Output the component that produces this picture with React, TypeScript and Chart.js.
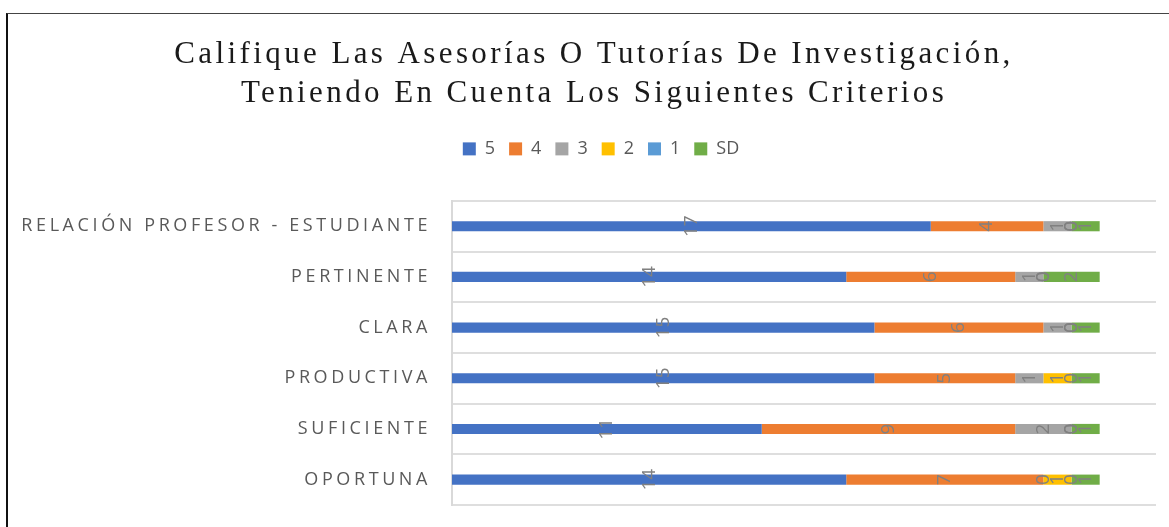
import { useEffect, useRef } from 'react';
import { Chart, registerables } from 'chart.js';

Chart.register(...registerables);

const categories = [
  'RELACIÓN PROFESOR - ESTUDIANTE',
  'PERTINENTE',
  'CLARA',
  'PRODUCTIVA',
  'SUFICIENTE',
  'OPORTUNA',
];
const seriesNames = ['5', '4', '3', '2', '1', 'SD'];
const values5 = [17, 14, 15, 15, 11, 14];
const values4 = [4, 6, 6, 5, 9, 7];
const values3 = [1, 1, 1, 1, 2, 0];
const values2 = [0, 0, 0, 1, 0, 1];
const values1 = [0, 0, 0, 0, 0, 0];
const valuesSD = [1, 2, 1, 1, 1, 1];
const seriesColors = ['#4472C4', '#ED7D31', '#A5A5A5', '#FFC000', '#5B9BD5', '#70AD47'];

const titleLines = [
  'Califique Las Asesorías O Tutorías De Investigación,',
  'Teniendo En Cuenta Los Siguientes Criterios',
];

const TITLE_SPACING = '3.4px';
const TICK_SPACING = '3.6px';
const LEGEND_GAP = 33;
const LEGEND_SHIFT = 7;

const segLabels = {
  id: 'segLabels',
  afterDatasetsDraw(chart: any) {
    const ctx = chart.ctx;
    ctx.save();
    ctx.font = '19px "Open Sans"';
    ctx.fillStyle = '#808080';
    ctx.textAlign = 'center';
    ctx.textBaseline = 'middle';
    chart.data.datasets.forEach((ds: any, di: number) => {
      const meta = chart.getDatasetMeta(di);
      if (meta.hidden) return;
      meta.data.forEach((el: any, i: number) => {
        const p = el.getProps(['x', 'y', 'base'], true);
        const cx = (p.x + p.base) / 2;
        ctx.save();
        ctx.translate(cx, p.y);
        ctx.rotate(-Math.PI / 2);
        ctx.fillText(String(ds.data[i]), 0, 0);
        ctx.restore();
      });
    });
    ctx.restore();
  },
};

const spacing = {
  id: 'spacing',
  beforeLayout(chart: any) {
    const l = chart.legend;
    if (l && !l.__gap) {
      const f = l.fit.bind(l);
      l.fit = () => {
        f();
        l.height += LEGEND_GAP;
      };
      const d = l.draw.bind(l);
      l.draw = (a: any) => {
        const c = chart.ctx;
        c.save();
        c.translate(LEGEND_SHIFT, 0);
        d(a);
        c.restore();
      };
      l.__gap = true;
    }
  },
  beforeDraw(chart: any) {
    const t = chart.titleBlock;
    if (t && !t.__ls) {
      const d = t.draw.bind(t);
      t.draw = (a: any) => {
        const c = chart.ctx;
        c.save();
        c.letterSpacing = TITLE_SPACING;
        d(a);
        c.restore();
      };
      t.__ls = true;
    }
    const y = chart.scales.y;
    if (y && !y.__ls) {
      y._computeLabelArea = () => undefined;
      const d = y.drawLabels.bind(y);
      y.drawLabels = (a: any) => {
        const c = chart.ctx;
        c.save();
        c.letterSpacing = TICK_SPACING;
        d(a);
        c.restore();
      };
      y.__ls = true;
    }
  },
};

export default function App() {
  const ref = useRef<HTMLCanvasElement | null>(null);

  useEffect(() => {
    if (!ref.current) return;
    const all = [values5, values4, values3, values2, values1, valuesSD];
    const chart = new Chart(ref.current, {
      type: 'bar',
      data: {
        labels: categories,
        datasets: all.map((v, i) => ({
          label: seriesNames[i],
          data: v,
          backgroundColor: seriesColors[i],
          borderWidth: 0,
          barPercentage: 0.2,
          categoryPercentage: 1,
        })),
      },
      plugins: [segLabels, spacing],
      options: {
        indexAxis: 'y',
        responsive: false,
        animation: false,
        layout: { padding: { top: 0, left: 32, right: 13, bottom: 22 } },
        scales: {
          x: {
            stacked: true,
            display: false,
            min: 0,
            max: 25,
          },
          y: {
            stacked: true,
            afterFit: (s: any) => {
              s.width = 420;
              s.paddingTop = 0;
              s.paddingBottom = 0;
            },
            grid: { color: '#dedede', lineWidth: 2, drawTicks: false },
            border: { color: '#d9d9d9', width: 2 },
            ticks: {
              padding: 21,
              color: '#595959',
              font: { family: '"Open Sans"', size: 18 },
            },
          },
        },
        plugins: {
          title: {
            display: true,
            text: titleLines,
            color: '#1a1a1a',
            font: { family: '"Liberation Serif"', size: 31, weight: 'normal', lineHeight: 1.24 },
            padding: { top: 36, bottom: 13 },
          },
          legend: {
            display: true,
            position: 'top',
            labels: {
              boxWidth: 13,
              boxHeight: 13,
              padding: 14,
              color: '#595959',
              font: { family: '"Open Sans"', size: 18 },
            },
          },
          tooltip: { enabled: false },
        },
      },
    } as any);
    return () => chart.destroy();
  }, []);

  return (
    <div style={{ position: 'absolute', left: 0, top: 0, width: 1169, height: 527, overflow: 'hidden', background: '#fff' }}>
      <canvas ref={ref} width={1169} height={527} style={{ position: 'absolute', left: 0, top: 0 }} />
      <div
        style={{
          position: 'absolute',
          left: 6,
          top: 13,
          width: 1300,
          height: 700,
          borderLeft: '2px solid #111',
          borderTop: '1px solid #444',
          pointerEvents: 'none',
        }}
      />
    </div>
  );
}
